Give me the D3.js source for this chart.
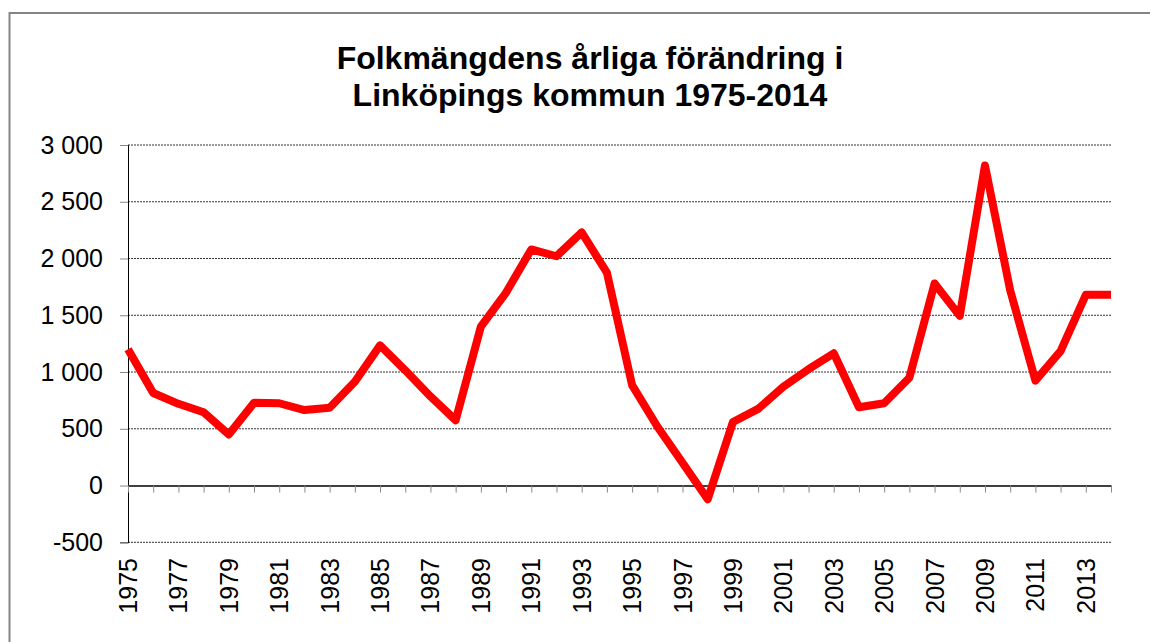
<!DOCTYPE html>
<html>
<head>
<meta charset="utf-8">
<script src="https://cdn.jsdelivr.net/npm/d3@7"></script>
<style>
  body { margin: 0; background: #fff; }
  svg { display: block; font-family: "Liberation Sans", Arial, sans-serif; }
</style>
</head>
<body>
<svg width="1150" height="642"></svg>
<script>
var years = [1975, 1976, 1977, 1978, 1979, 1980, 1981, 1982, 1983, 1984,
             1985, 1986, 1987, 1988, 1989, 1990, 1991, 1992, 1993, 1994,
             1995, 1996, 1997, 1998, 1999, 2000, 2001, 2002, 2003, 2004,
             2005, 2006, 2007, 2008, 2009, 2010, 2011, 2012, 2013, 2014];
var change = [1200, 815, 720, 645, 450, 730, 725, 665, 685, 915,
              1235, 1015, 785, 575, 1400, 1700, 2080, 2020, 2230, 1875,
              885, 520, 200, -120, 560, 675, 870, 1025, 1165, 690,
              725, 950, 1780, 1495, 2820, 1720, 925, 1185, 1680, 1680];
var yTicks = [-500, 0, 500, 1000, 1500, 2000, 2500, 3000];
var yearLabels = [1975, 1977, 1979, 1981, 1983, 1985, 1987, 1989, 1991, 1993,
                  1995, 1997, 1999, 2001, 2003, 2005, 2007, 2009, 2011, 2013];
var titleLines = ["Folkmängdens årliga förändring i", "Linköpings kommun 1975-2014"];

var svg = d3.select("svg");

// chart frame (runs off the right and bottom edge)
svg.append("rect")
    .attr("x", 9.5).attr("y", 13)
    .attr("width", 1200).attr("height", 700)
    .attr("fill", "#fff")
    .attr("stroke", "#858585")
    .attr("stroke-width", 2);

var x = d3.scaleLinear().domain([1975, 2014]).range([128, 1111]),
    y = d3.scaleLinear().domain([-500, 3000]).range([542.3, 145]);

// "3 000", "-500"
var fmt = function(d) {
    return d3.format(",")(d).replace(/,/g, " ").replace("\u2212", "-");
};

// title
svg.append("text")
    .attr("x", 590)
    .attr("y", 69)
    .attr("text-anchor", "middle")
    .style("font-size", "32px")
    .style("font-weight", "bold")
    .selectAll("tspan")
    .data(titleLines)
    .enter().append("tspan")
    .attr("x", 590)
    .attr("dy", function(d, i) { return i ? 37 : 0; })
    .text(function(d) { return d; });

// gridlines
svg.append("g")
    .selectAll("line")
    .data(yTicks.filter(function(d) { return d !== 0; }))
    .enter().append("line")
    .attr("x1", x(1975)).attr("x2", x(2014))
    .attr("y1", function(d) { return y(d); })
    .attr("y2", function(d) { return y(d); })
    .attr("stroke", "#333")
    .attr("stroke-width", 1)
    .attr("stroke-dasharray", "2,1");

// y axis
var yAxis = svg.append("g")
    .attr("transform", "translate(" + x(1975) + ",0)")
    .call(d3.axisLeft(y).tickValues(yTicks).tickSize(8).tickPadding(17).tickFormat(fmt));
yAxis.select(".domain").attr("stroke", "#000");
yAxis.selectAll(".tick line").attr("stroke", "#888");
yAxis.selectAll(".tick text")
    .attr("fill", "#000")
    .style("font-size", "25px")
    .style("font-family", "'Liberation Sans', Arial, sans-serif");

// x axis at zero
var xAxis = svg.append("g")
    .attr("transform", "translate(0," + y(0) + ")")
    .call(d3.axisBottom(x).tickValues(years).tickSize(7).tickSizeOuter(0).tickFormat(""));
xAxis.select(".domain").attr("stroke", "#000").attr("stroke-width", 1.5);
xAxis.selectAll(".tick line").attr("stroke", "#888");

// year labels, rotated
svg.append("g")
    .selectAll("text")
    .data(yearLabels)
    .enter().append("text")
    .attr("transform", function(d) { return "translate(" + x(d) + ",558) rotate(-90)"; })
    .attr("text-anchor", "end")
    .attr("dy", "0.36em")
    .style("font-size", "25px")
    .text(function(d) { return d; });

// the series
var line = d3.line()
    .x(function(d, i) { return x(years[i]); })
    .y(function(d) { return y(d); });

svg.append("path")
    .datum(change)
    .attr("d", line)
    .attr("fill", "none")
    .attr("stroke", "#ff0000")
    .attr("stroke-width", 8)
    .attr("stroke-linejoin", "round");
</script>
</body>
</html>
